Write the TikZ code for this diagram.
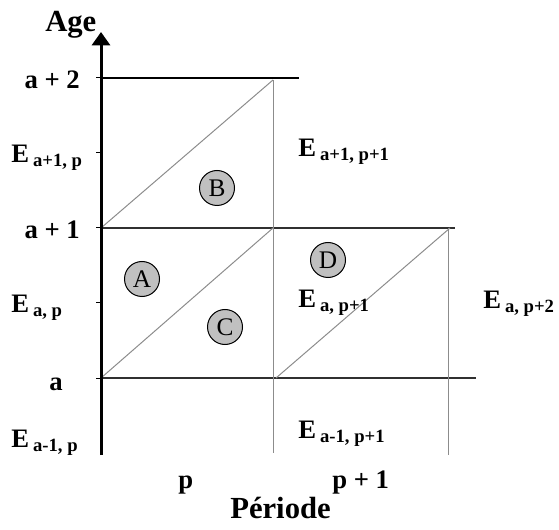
\documentclass[tikz,border=0pt]{standalone}
\usepackage{fontspec}
\setmainfont{Liberation Serif}
\usetikzlibrary{arrows.meta}
\definecolor{discgray}{HTML}{C0C0C0}
\definecolor{linegray}{HTML}{8C8C8C}
\definecolor{darkline}{HTML}{303030}
\newcommand\Elab[1]{E\hspace{3pt}{\fontsize{14}{14}\selectfont\raisebox{-3pt}{#1}}}
\begin{document}
\begin{tikzpicture}[x=0.75pt,y=-0.75pt,
  lbl/.style={inner sep=0pt, font=\fontsize{20}{20}\selectfont\bfseries},
  big/.style={inner sep=0pt, font=\fontsize{23}{23}\selectfont\bfseries},
  disc/.style={circle, draw=black, line width=0.75pt, fill=discgray, minimum size=26.25pt, inner sep=0pt, font=\fontsize{19}{19}\selectfont},
  hline/.style={line width=0.8pt, draw=black},
  hdark/.style={line width=1.2pt, draw=darkline},
  gline/.style={line width=0.75pt, draw=linegray},
  tickline/.style={line width=0.75pt, draw=black}]
\useasboundingbox (0,0) rectangle (559,530);
% grid coordinates
\coordinate (O) at (101,455);
\coordinate (T) at (101,32);
\coordinate (L2) at (101,78);  \coordinate (R2) at (299,78);
\coordinate (L1) at (101,228); \coordinate (R1) at (455,228);
\coordinate (L0) at (101,378); \coordinate (R0) at (476,378);
\coordinate (VpT) at (273,80);  \coordinate (VpB) at (273,453);
\coordinate (VqT) at (448,228); \coordinate (VqB) at (448,455);
\coordinate (M1) at (273,228);
\coordinate (D0) at (276,378); \coordinate (D1) at (450,228);
\foreach \y/\n in {78/k2,153/k15,228/k1,303/k05,378/k0}{
  \coordinate (\n a) at (96,\y); \coordinate (\n b) at (101,\y);
}
% lines
\draw[hline] (L2) -- (R2);
\draw[hdark] (L1) -- (R1);
\draw[hdark] (L0) -- (R0);
\draw[gline] (VpT) -- (VpB);
\draw[gline] (VqT) -- (VqB);
\draw[gline] (L1) -- (VpT);
\draw[gline] (L0) -- (M1);
\draw[gline] (D0) -- (D1);
\foreach \n in {k2,k15,k1,k05,k0}{ \draw[tickline] (\n a) -- (\n b); }
\draw[line width=2.25pt, -{Triangle[width=13.5pt,length=10pt]}] (O) -- (T);
% labels
\node[big, anchor=base west] (age) at (45,32) {Age};
\node[big, anchor=base west] (per) at (230,518) {Période};
\node[lbl, anchor=base east] (a2) at (80,89) {a + 2};
\node[lbl, anchor=base east] (a1) at (80,239) {a + 1};
\node[lbl, anchor=base east] (a0) at (63,390) {a};
\node[lbl, anchor=base west] (p0) at (178,488) {p};
\node[lbl, anchor=base west] (p1) at (332,488) {p + 1};
\node[lbl, anchor=base west] (e1) at (11,163) {\Elab{a+1, p}};
\node[lbl, anchor=base west] (e2) at (11,312) {\Elab{a, p}};
\node[lbl, anchor=base west] (e3) at (11,447) {\Elab{a-1, p}};
\node[lbl, anchor=base west] (e4) at (298,157) {\Elab{a+1, p+1}};
\node[lbl, anchor=base west] (e5) at (298,307) {\Elab{a, p+1}};
\node[lbl, anchor=base west] (e6) at (483,308) {\Elab{a, p+2}};
\node[lbl, anchor=base west] (e7) at (298,438) {\Elab{a-1, p+1}};
% discs
\node[disc] (B) at (217,188) {B};
\node[disc] (A) at (142,279) {A};
\node[disc] (C) at (225,327) {C};
\node[disc] (D) at (328,260) {D};
\end{tikzpicture}
\end{document}
